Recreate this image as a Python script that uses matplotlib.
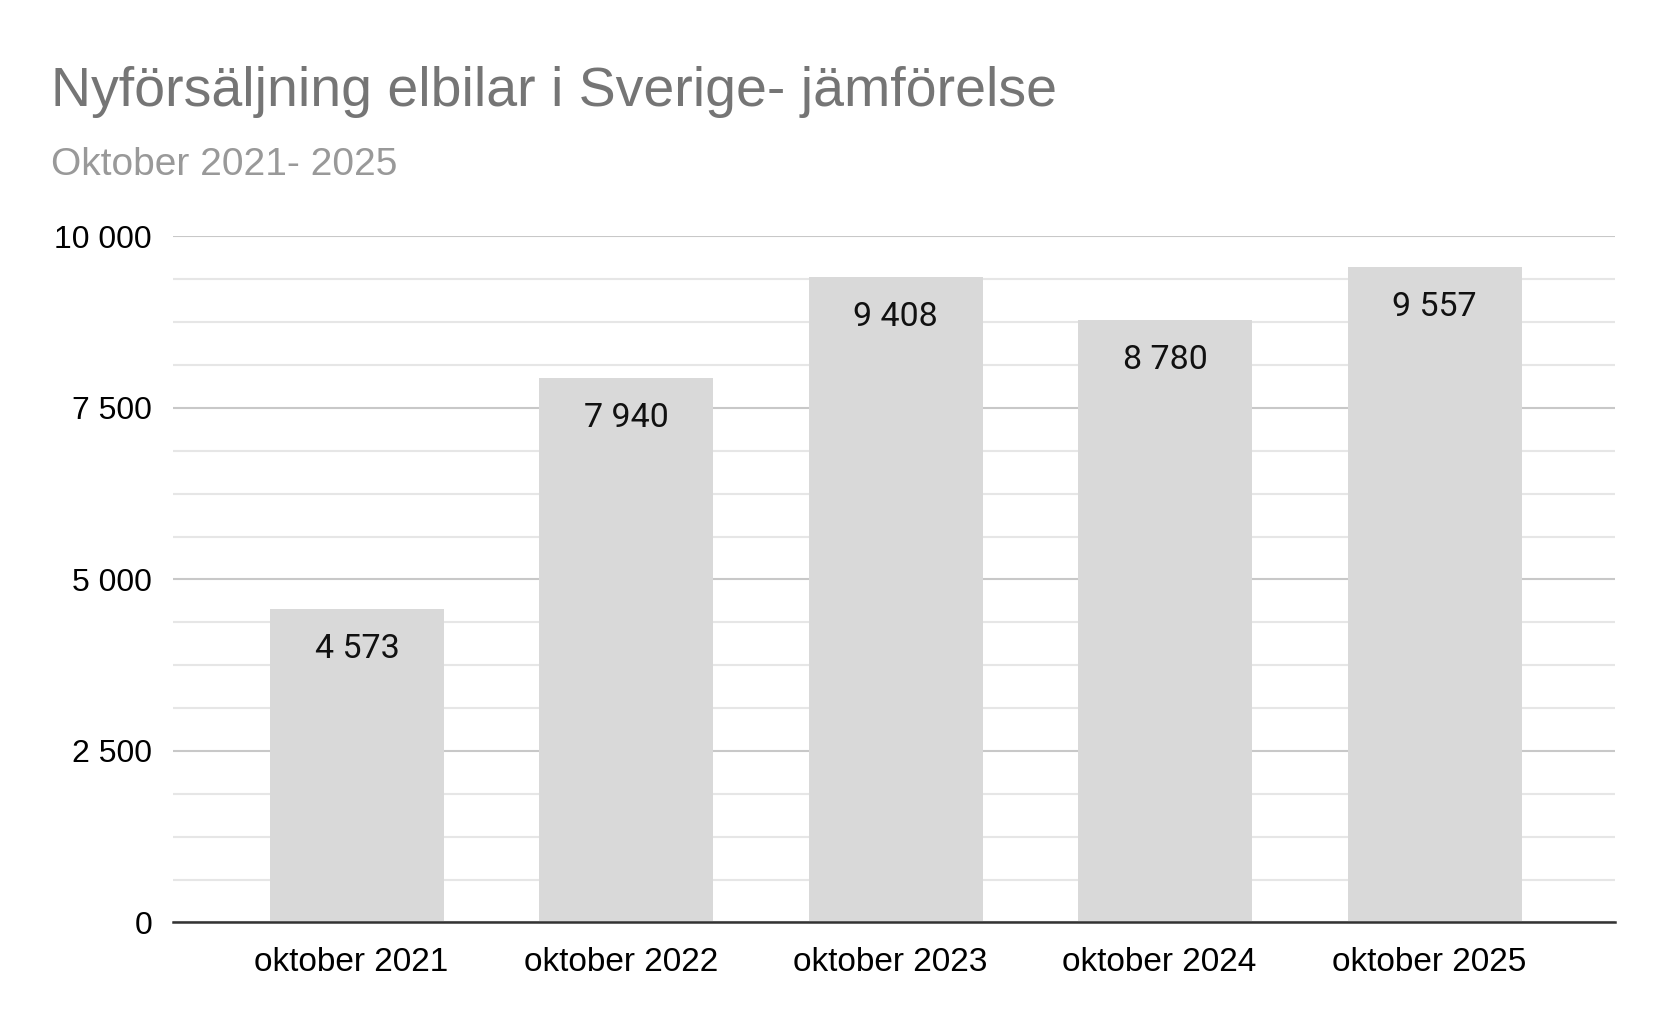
import numpy as np
import matplotlib
matplotlib.use('Agg')
import matplotlib.pyplot as plt
import matplotlib.transforms as mtransforms
from matplotlib.ticker import FuncFormatter, MultipleLocator

# data
categories = ['oktober 2021', 'oktober 2022', 'oktober 2023', 'oktober 2024', 'oktober 2025']
sales = [4573, 7940, 9408, 8780, 9557]

title = 'Nyförsäljning elbilar i Sverige- jämförelse'
subtitle = 'Oktober 2021- 2025'

def spaced(v, pos=None):
    # thousands separated by a space
    return '{:,.0f}'.format(v).replace(',', ' ')

fig = plt.figure(figsize=(16.66, 10.30), dpi=100)
ax = fig.add_axes([0.1038, 0.1044, 0.8656, 0.666])

x = np.arange(len(categories))
bars = ax.bar(x, sales, width=0.646, color='#d9d9d9', zorder=2)

# value labels inside the bars, near the top
for xi, v in zip(x, sales):
    ax.annotate(spaced(v), xy=(xi, v), xytext=(0, -24), textcoords='offset pixels',
                ha='center', va='top', fontsize=24.5, family='Roboto', color='#111111', zorder=3)

ax.set_xlim(-0.683, 4.67)
ax.set_ylim(0, 10000)
ax.yaxis.set_major_locator(MultipleLocator(2500))
ax.yaxis.set_minor_locator(MultipleLocator(625))
ax.yaxis.set_major_formatter(FuncFormatter(spaced))
ax.grid(axis='y', which='major', color='#c8c8c8', linewidth=1.5, zorder=0)
ax.grid(axis='y', which='minor', color='#e6e6e6', linewidth=1.5, zorder=0)

ax.set_xticks(x)
ax.set_xticklabels(categories)
for s in ['top', 'right', 'left']:
    ax.spines[s].set_visible(False)
ax.spines['bottom'].set_color('#333333')
ax.spines['bottom'].set_linewidth(1.8)
ax.spines['bottom'].set_zorder(4)
ax.tick_params(axis='both', which='both', length=0)
ax.tick_params(axis='y', pad=15)
ax.tick_params(axis='x', pad=18)
for lab in ax.get_yticklabels():
    lab.set_fontfamily('Liberation Sans')
    lab.set_fontsize(23)
    lab.set_color('#000000')
# category labels sit a little left of the bar centres in the original
shift = mtransforms.ScaledTranslation(-5.5 / 100, 0, fig.dpi_scale_trans)
for lab in ax.get_xticklabels():
    lab.set_fontfamily('Liberation Sans')
    lab.set_fontsize(24)
    lab.set_color('#000000')
    lab.set_transform(lab.get_transform() + shift)

fig.text(0.0306, 0.897, title, fontsize=40, family='Liberation Sans', color='#757575',
         ha='left', va='baseline')
fig.text(0.0306, 0.830, subtitle, fontsize=28, family='Liberation Sans', color='#999999',
         ha='left', va='baseline')

fig.savefig('out.png', dpi=100, facecolor='white')
